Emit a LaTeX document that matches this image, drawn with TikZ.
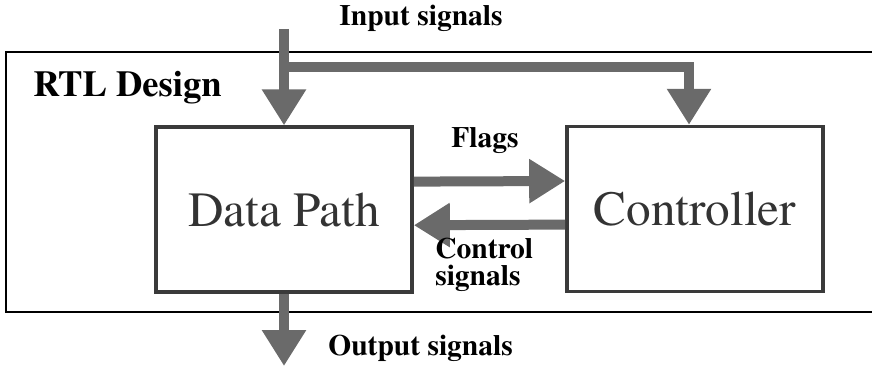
\documentclass[tikz,border=0pt]{standalone}
\usepackage[T1]{fontenc}
\usepackage{times}
\usetikzlibrary{arrows.meta,positioning,calc}
\definecolor{wire}{HTML}{6A6A6A}
\definecolor{edge}{HTML}{3A3A3A}

\begin{document}
\begin{tikzpicture}[
  block/.style={draw=edge,line width=2.6pt,minimum width=6.4cm,minimum height=4.12cm,font=\fontsize{35}{40}\selectfont,text=black!80},
  bus/.style={line width=0.25cm,wire,-{Triangle[length=0.9cm,width=1.05cm]}},
  lbl/.style={font=\fontsize{21}{19}\selectfont\bfseries,inner sep=0pt}]
  \useasboundingbox (0,0) rectangle (21.8,-9.175);

  % RTL design frame
  \draw[line width=1.6pt] (0.15,-1.3) rectangle (22.4,-7.8);
  \node[lbl,font=\fontsize{26}{30}\selectfont\bfseries,anchor=base west] (rtl) at (0.825,-2.4) {RTL Design};

  % the two blocks
  \node[block] (dp) at (7.1,-5.24) {Data Path};
  \node[block] (ctrl) at (17.375,-5.225) {Controller};

  % inputs
  \coordinate (in) at (7.1,-0.72);
  \coordinate (fork) at (7.1,-1.675);
  \node[lbl,anchor=base] (inlbl) at (10.525,-0.625) {Input signals};
  \draw[bus] (in) -- (dp.north);
  \draw[bus] (fork) -| ([xshift=-0.15cm]ctrl.north);

  % flags and control
  \draw[bus] ([yshift=0.7cm]dp.east) -- ([yshift=0.7cm]ctrl.west);
  \node[lbl,anchor=base] (flagslbl) at (12.125,-3.675) {Flags};
  \draw[bus] ([yshift=-0.39cm]ctrl.west) -- ([yshift=-0.39cm]dp.east);
  \node[lbl,align=left,anchor=west] (ctrllbl) at (10.875,-6.625) {Control\\signals};

  % outputs
  \coordinate (out) at (7.1,-9.15);
  \draw[bus] (dp.south) -- (out);
  \node[lbl,anchor=base west] (outlbl) at (8.2,-8.875) {Output signals};
\end{tikzpicture}
\end{document}
